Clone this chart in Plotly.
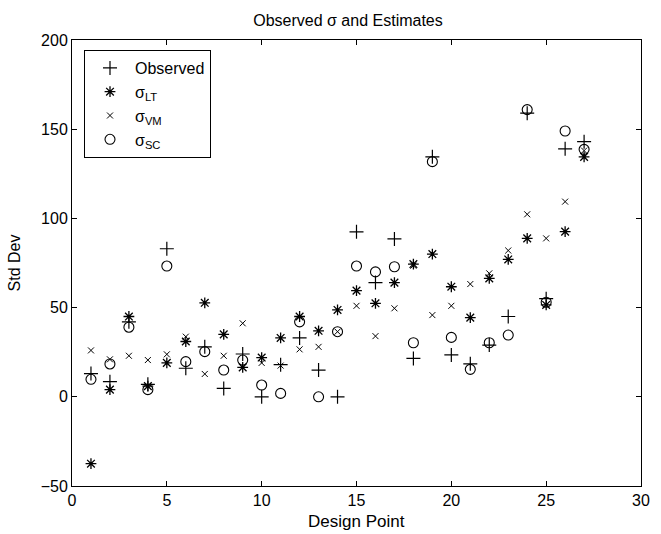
import plotly.graph_objects as go

design_point = list(range(1, 28))
observed = [13, 8.5, 42, 7, 83, 16, 28, 4.7, 24, 0, 18, 33, 15, 0, 92.5, 64, 88.5, 21.5, 134.5,
            23.5, 18.5, 29, 45, 159, 55, 139, 143]
sigma_lt = [-37.5, 4, 45, 6, 19, 31, 52.7, 35, 16.5, 22, 33, 45, 37, 48.7, 59.5, 52.4, 64, 74.4, 80,
            61.7, 44.4, 66.4, 77, 88.8, 51.5, 92.6, 134.5]
sigma_vm = [26, 21, 23, 20.6, 23.8, 33.7, 12.8, 23, 41.2, 19, 17.5, 26.6, 28, 36.5, 51, 34, 49.6,
            73.5, 45.8, 51, 63.2, 69.2, 82, 102.3, 88.8, 109.4, 138]
sigma_sc = [9.8, 18.4, 39, 4, 73.3, 19.7, 25.3, 15, 20.6, 6.6, 1.9, 42, 0, 36.5, 73.3, 70, 72.9,
            30.3, 131.8, 33.3, 15.4, 30.3, 34.6, 161, 53, 149, 138.7]

series = [
    ("Observed", observed, "cross-thin", 10, 1.2),
    ("σ<sub>LT</sub>", sigma_lt, "asterisk-open", 9, 1.3),
    ("σ<sub>VM</sub>", sigma_vm, "x-thin", 6, 1.0),
    ("σ<sub>SC</sub>", sigma_sc, "circle-open", 10, 1.1),
]

fig = go.Figure()
for name, vals, sym, size, lw in series:
    fig.add_trace(go.Scatter(
        x=design_point, y=vals, mode="markers", name=name,
        marker=dict(symbol=sym, size=size, color="black",
                    line=dict(color="black", width=lw)),
    ))

font = "Liberation Sans, Arial, Helvetica, sans-serif"
axis_common = dict(
    showgrid=False, zeroline=False, showline=True, linecolor="black", linewidth=1,
    mirror="ticks", ticks="inside", ticklen=5, tickcolor="black", automargin=False,
    tickfont=dict(family=font, size=16, color="black"),
)
fig.update_layout(
    width=661, height=534,
    margin=dict(l=72, r=20, t=40, b=48),
    plot_bgcolor="white", paper_bgcolor="white",
    title=dict(text="Observed σ and Estimates", x=348 / 661, xanchor="center",
               y=1 - 20 / 534, yanchor="middle",
               font=dict(family=font, size=16, color="black")),
    xaxis=dict(range=[0, 30], tickvals=[0, 5, 10, 15, 20, 25, 30], **axis_common),
    yaxis=dict(range=[-50, 200], tickvals=[-50, 0, 50, 100, 150, 200],
               title=dict(text="Std Dev", font=dict(family=font, size=16, color="black"),
                          standoff=16),
               **axis_common),
    legend=dict(x=(84 - 72) / 569, y=(486 - 50) / 446, xanchor="left", yanchor="top",
                bordercolor="black", borderwidth=1, bgcolor="white",
                font=dict(family=font, size=16, color="black"),
                tracegroupgap=0, itemwidth=40),
    showlegend=True,
    annotations=[dict(text="Design Point", xref="paper", yref="paper", x=0.5,
                      y=(486 - 521) / 446, xanchor="center", yanchor="middle",
                      showarrow=False, font=dict(family=font, size=17, color="black"))],
)
fig.write_html("out.html", config={"displayModeBar": False},
               post_script="document.body.style.margin='0';document.body.style.overflow='hidden';")
